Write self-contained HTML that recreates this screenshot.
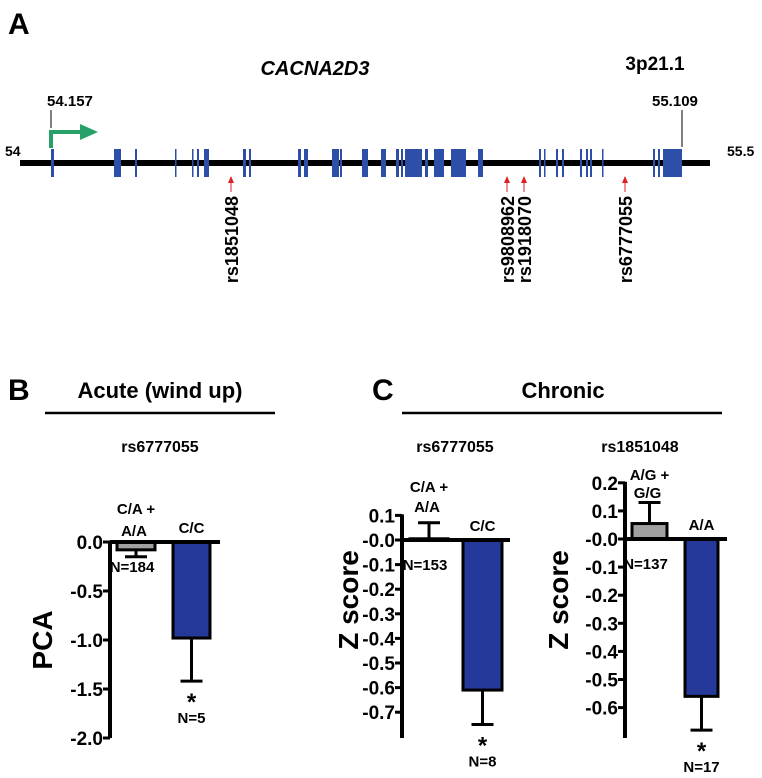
<!DOCTYPE html>
<html><head><meta charset="utf-8"><style>
body{margin:0;background:#fff}
svg{display:block;font-family:"Liberation Sans",Arial,sans-serif;font-weight:bold}
</style></head><body>
<svg id="s" width="762" height="778" viewBox="0 0 762 778">
<text x="8" y="34" font-size="30">A</text>
<text x="315" y="75" font-size="20" font-style="italic" text-anchor="middle">CACNA2D3</text>
<text x="655" y="70" font-size="19" text-anchor="middle">3p21.1</text>
<g id="gene"></g>
<text x="8" y="400" font-size="30">B</text>
<text x="160" y="398" font-size="22" text-anchor="middle">Acute (wind up)</text>
<line x1="45" y1="413" x2="275" y2="413" stroke="#000" stroke-width="2.5"/>
<text x="372" y="400" font-size="30">C</text>
<text x="563" y="398" font-size="22" text-anchor="middle">Chronic</text>
<line x1="402" y1="413" x2="722" y2="413" stroke="#000" stroke-width="2.5"/>
<g id="charts"></g>
</svg>
<script>
// Gene diagram data
const exonStarts=[51,114,135,175,192,197,204,243,249,298,304,332,340,362,381,396,401,405,425,434,451,478,539,544,556,562,580,586,590,602,653,658,663];
const exonEnds=[54,121,137,176,193,199,209,246,251,301,308,339,342,368,386,399,403,422,428,444,466,483,541,545,558,564,582,588,592,603,655,660,682];
const snpNames=["rs1851048","rs9808962","rs1918070","rs6777055"];
const snpPos=[231,507,524,625];
const NS="http://www.w3.org/2000/svg";
function el(t,a,p){const e=document.createElementNS(NS,t);for(const k in a)e.setAttribute(k,a[k]);p.appendChild(e);return e;}
const g=document.getElementById('gene');
let ln=el('line',{x1:20,y1:163,x2:710,y2:163,stroke:'#000','stroke-width':6},g);


exonStarts.forEach((s,i)=>{const r=el('rect',{x:s,y:149,width:Math.max(1.5,exonEnds[i]-s),height:28,fill:'#2e4fa8'},g);

});
[["54",5,156],["55.5",727,156]].forEach(t=>{const e=el('text',{x:t[1],y:t[2],'font-size':14},g);e.textContent=t[0];

});
[["54.157",47,106,51,128],["55.109",652,106,682,147]].forEach(t=>{const e=el('text',{x:t[1],y:t[2],'font-size':15},g);e.textContent=t[0];


el('line',{x1:t[3],y1:110,x2:t[3],y2:t[4],stroke:'#000','stroke-width':1},g);});
el('path',{d:'M51 148 V132 H82',stroke:'#27a06a','stroke-width':4,fill:'none'},g);
const ar=el('polygon',{points:'80,124 98,132 80,140',fill:'#27a06a'},g);


snpNames.forEach((n,i)=>{const x=snpPos[i];
el('line',{x1:x,y1:192,x2:x,y2:181,stroke:'#e02020','stroke-width':1},g);
el('polygon',{points:`${x-3},183 ${x},176 ${x+3},183`,fill:'#e02020'},g);
const t=el('text',{x:0,y:0,'font-size':18,'text-anchor':'end',transform:`translate(${x+7},196) rotate(-90)`},g);t.textContent=n;

});

// Bar chart data
const chartTitles=["rs6777055","rs6777055","rs1851048"];
const yTitles=["PCA","Z score","Z score"];
const tickVals=[[0,-0.5,-1,-1.5,-2],[0.1,0,-0.1,-0.2,-0.3,-0.4,-0.5,-0.6,-0.7],[0.2,0.1,0,-0.1,-0.2,-0.3,-0.4,-0.5,-0.6]];
const tickLabels=[["0.0","-0.5","-1.0","-1.5","-2.0"],["0.1","-0.0","-0.1","-0.2","-0.3","-0.4","-0.5","-0.6","-0.7"],["0.2","0.1","-0.0","-0.1","-0.2","-0.3","-0.4","-0.5","-0.6"]];
const groupA=[["C/A +","A/A"],["C/A +","A/A"],["A/G +","G/G"]];
const groupB=["C/C","C/C","A/A"];
const valA=[-0.08,0.005,0.055];
const errA=[-0.15,0.07,0.13];
const valB=[-0.98,-0.61,-0.56];
const errB=[-1.42,-0.75,-0.68];
const nA=["N=184","N=153","N=137"];
const nB=["N=5","N=8","N=17"];
// layout (not data)
const L=[{ax:110,zy:542,ppu:98,yEnd:738,x0end:220,ba:[117,155],bb:[173,210],tx:160,yt:640,yx:52,la:[514,536]},
{ax:402,zy:540,ppu:246,yEnd:738,x0end:510,ba:[410,448],bb:[463,502],tx:455,yt:600,yx:358,la:[492,512]},
{ax:625,zy:539,ppu:281,yEnd:738,x0end:727,ba:[632,667],bb:[685,718],tx:640,yt:600,yx:568,la:[480,498]}];
const C=document.getElementById('charts');
L.forEach((l,i)=>{
 const y=v=>l.zy-v*l.ppu;
 const G=el('g',{},C);
 
 
 const T=el('text',{x:l.tx,y:452,'font-size':16,'text-anchor':'middle'},G);T.textContent=chartTitles[i];
 
 
 const top=y(tickVals[i][0]);
 const YT=el('text',{x:0,y:0,'font-size':28,'text-anchor':'middle',transform:`translate(${l.yx},${l.yt}) rotate(-90)`},G);YT.textContent=yTitles[i];
 
 
 tickVals[i].forEach((v,j)=>{const ty=y(v);
  el('line',{x1:l.ax-7,y1:ty,x2:l.ax,y2:ty,stroke:'#000','stroke-width':3},G);
  const t=el('text',{x:l.ax-7,y:ty+7,'font-size':19,'text-anchor':'end'},G);t.textContent=tickLabels[i][j];
  
  });
 const bA=el('rect',{x:l.ba[0],y:Math.min(y(0),y(valA[i])),width:l.ba[1]-l.ba[0],height:Math.max(1,Math.abs(y(valA[i])-y(0))),fill:'#a0a0a0',stroke:'#000','stroke-width':3},G);
 
 
 const bB=el('rect',{x:l.bb[0],y:y(0),width:l.bb[1]-l.bb[0],height:y(valB[i])-y(0),fill:'#24399a',stroke:'#000','stroke-width':3},G);
 
 
 const ca=(l.ba[0]+l.ba[1])/2, cb=(l.bb[0]+l.bb[1])/2;
 el('line',{x1:ca,y1:y(valA[i]),x2:ca,y2:y(errA[i]),stroke:'#000','stroke-width':3},G);
 el('line',{x1:ca-11,y1:y(errA[i]),x2:ca+11,y2:y(errA[i]),stroke:'#000','stroke-width':3},G);
 el('line',{x1:cb,y1:y(valB[i]),x2:cb,y2:y(errB[i]),stroke:'#000','stroke-width':3},G);
 el('line',{x1:cb-11,y1:y(errB[i]),x2:cb+11,y2:y(errB[i]),stroke:'#000','stroke-width':3},G);
 el('line',{x1:l.ax,y1:top-1,x2:l.ax,y2:l.yEnd,stroke:'#000','stroke-width':4},G);
 el('line',{x1:l.ax,y1:y(0),x2:l.x0end,y2:y(0),stroke:'#000','stroke-width':4},G);
 const la1=el('text',{x:ca,y:l.la[0],'font-size':15,'text-anchor':'middle'},G);la1.textContent=groupA[i][0];
 
 
 const la2=el('text',{x:ca-2,y:l.la[1],'font-size':15,'text-anchor':'middle'},G);la2.textContent=groupA[i][1];
 
 
 const lb=el('text',{x:cb,y:y(0)-9,'font-size':15,'text-anchor':'middle'},G);lb.textContent=groupB[i];
 
 
 const na=el('text',{x:ca-4,y:y(0)+30,'font-size':15,'text-anchor':'middle'},G);na.textContent=nA[i];
 
 
 const st=el('text',{x:cb,y:y(errB[i])+29,'font-size':24,'text-anchor':'middle'},G);st.textContent='*';
 
 
 const nb=el('text',{x:cb,y:y(errB[i])+42,'font-size':15,'text-anchor':'middle'},G);nb.textContent=nB[i];
 
 
});
</script>
</body></html>
